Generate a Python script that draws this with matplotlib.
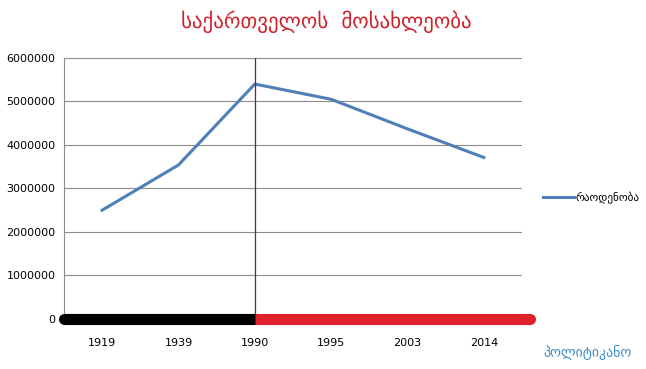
import matplotlib
matplotlib.use('Agg')
import matplotlib.pyplot as plt
import numpy as np

years = ['1919', '1939', '1990', '1995', '2003', '2014']
population = [2500000, 3540000, 5400000, 5050000, 4370000, 3713000]
yticks = [0, 1000000, 2000000, 3000000, 4000000, 5000000, 6000000]
split_year = '1990'

fig = plt.figure(figsize=(6.46, 3.69), dpi=100)
ax = fig.add_axes([0.099, 0.1355, 0.709, 0.7075])

x = np.arange(len(years))
ax.plot(x, population, color='#4f7fb8', lw=2.2, label='რაოდენობა')

ax.set_xlim(-0.5, len(years) - 0.5)
ax.set_ylim(0, 6000000)
ax.set_yticks(yticks)
ax.set_yticklabels([str(v) for v in yticks], fontsize=8)
ax.set_xticks(x)
ax.set_xticklabels(years, fontsize=8)
ax.tick_params(length=0, pad=14, axis='x')
ax.tick_params(length=0, pad=6, axis='y')
ax.grid(axis='y', color='#8c8c8c', lw=0.8)
ax.set_axisbelow(True)
for s in ['top', 'right', 'bottom']:
    ax.spines[s].set_visible(False)
ax.spines['left'].set_color('#8c8c8c')

# divider at 1990
xs = years.index(split_year)
xend = len(years) - 0.4
ax.axvline(xs, color='#8b1a2b', lw=0.9)
ax.plot([-0.5, xs], [0, 0], color='black', lw=8, solid_capstyle='round', clip_on=False, zorder=5)
ax.plot([xs, xend], [0, 0], color='#e0202a', lw=8, solid_capstyle='butt', clip_on=False, zorder=6)
ax.plot([xend - 0.05, xend], [0, 0], color='#e0202a', lw=8, solid_capstyle='round', clip_on=False, zorder=6)

fig.legend(loc='center left', bbox_to_anchor=(0.825, 0.465), frameon=False, fontsize=8,
           handlelength=2.8, handletextpad=0.1)

fig.text(0.505, 0.94, 'საქართველოს  მოსახლეობა', color='#d0202a', fontsize=15, ha='center', va='center')
fig.text(0.91, 0.045, 'პოლიტიკანო', color='#3a8cc8', fontsize=10, ha='center', va='center')

plt.savefig('out.png', dpi=100)
